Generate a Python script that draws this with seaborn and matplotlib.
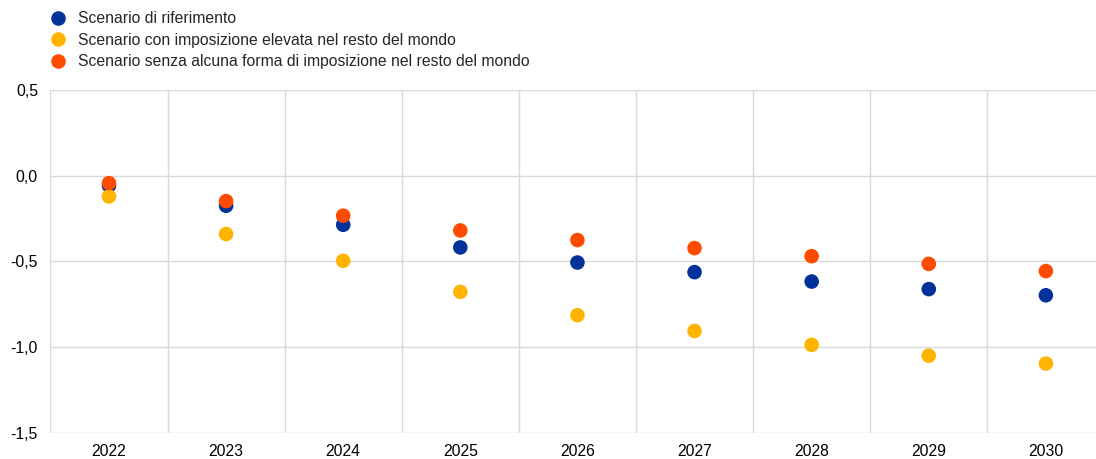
import pandas as pd
import numpy as np
import matplotlib
matplotlib.use("Agg")
import matplotlib.pyplot as plt
import seaborn as sns
from matplotlib.ticker import FuncFormatter

# data
years = ["2022", "2023", "2024", "2025", "2026", "2027", "2028", "2029", "2030"]
riferimento = [-0.058, -0.175, -0.286, -0.418, -0.506, -0.562, -0.617, -0.661, -0.697]
elevata = [-0.121, -0.340, -0.496, -0.677, -0.813, -0.905, -0.986, -1.049, -1.095]
senza = [-0.043, -0.148, -0.233, -0.319, -0.375, -0.422, -0.469, -0.514, -0.556]

labels = ["Scenario di riferimento",
          "Scenario con imposizione elevata nel resto del mondo",
          "Scenario senza alcuna forma di imposizione nel resto del mondo"]
colors = ["#003299", "#FFB400", "#FF4B00"]

df = pd.concat([
    pd.DataFrame({"anno": years, "valore": riferimento, "scenario": labels[0]}),
    pd.DataFrame({"anno": years, "valore": elevata, "scenario": labels[1]}),
    pd.DataFrame({"anno": years, "valore": senza, "scenario": labels[2]}),
])

sns.set_style("white")
plt.rcParams['font.family'] = ['Liberation Sans', 'DejaVu Sans']

fs = 11.3
fig = plt.figure(figsize=(10.96, 4.59), dpi=100)
ax = fig.add_axes([0.046, 0.0566, 0.9617, 0.7474])

sns.scatterplot(data=df, x="anno", y="valore", hue="scenario", hue_order=labels,
                palette=colors, s=110, linewidth=0, ax=ax, zorder=3)

ax.set_xlim(-0.5, len(years) - 0.5)
ax.set_ylim(-1.5, 0.5)
ax.set_yticks([-1.5, -1.0, -0.5, 0.0, 0.5])
ax.yaxis.set_major_formatter(FuncFormatter(lambda v, p: f"{v:.1f}".replace(".", ",")))
ax.set_xticks(range(len(years)))
ax.set_xticklabels(years)
ax.set_xlabel("")
ax.set_ylabel("")

# horizontal grid and vertical separators between years
for v in [-1.5, -1.0, -0.5, 0.0, 0.5]:
    ax.axhline(v, color="#d9d9d9", lw=1, zorder=1)
for i in range(len(years)):
    ax.axvline(i - 0.5, color="#d9d9d9", lw=1, zorder=1)

for s in ax.spines.values():
    s.set_visible(False)
ax.tick_params(axis="both", length=0, labelsize=fs, colors="black")
ax.tick_params(axis="y", pad=9)
ax.tick_params(axis="x", pad=8)

handles, lbls = ax.get_legend_handles_labels()
ax.legend(handles, lbls, loc="upper left", bbox_to_anchor=(0.0343, 0.999),
          bbox_transform=fig.transFigure, frameon=False, fontsize=fs,
          handletextpad=0.68, labelspacing=0.41, borderaxespad=0.3,
          handlelength=1.2)

fig.savefig("out.png", dpi=100)
